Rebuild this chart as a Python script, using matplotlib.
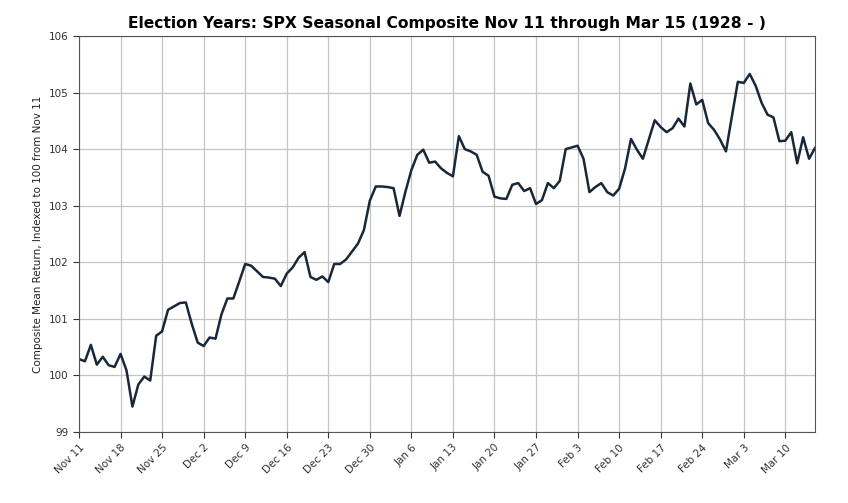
import numpy as np
import matplotlib
matplotlib.use("Agg")
import matplotlib.pyplot as plt

# composite index value per calendar day, Nov 11 (day 0) .. Mar 15 (day 124)
values = [
    100.29, 100.25, 100.54, 100.19, 100.33, 100.18, 100.15, 100.38, 100.09, 99.45,
    99.84, 99.98, 99.91, 100.70, 100.78, 101.16, 101.22, 101.28, 101.29, 100.91,
    100.58, 100.52, 100.67, 100.65, 101.08, 101.36, 101.36, 101.66, 101.97, 101.94,
    101.84, 101.74, 101.73, 101.71, 101.58, 101.80, 101.91, 102.08, 102.18, 101.74,
    101.69, 101.75, 101.65, 101.97, 101.97, 102.05, 102.19, 102.33, 102.57, 103.09,
    103.34, 103.34, 103.33, 103.31, 102.82, 103.25, 103.63, 103.90, 103.99, 103.76,
    103.78, 103.66, 103.58, 103.52, 104.23, 104.00, 103.96, 103.90, 103.60, 103.53,
    103.16, 103.13, 103.12, 103.37, 103.40, 103.26, 103.31, 103.03, 103.10, 103.40,
    103.31, 103.44, 104.00, 104.03, 104.06, 103.83, 103.24, 103.33, 103.40, 103.24,
    103.18, 103.30, 103.66, 104.18, 103.99, 103.83, 104.17, 104.51, 104.39, 104.30,
    104.37, 104.54, 104.40, 105.16, 104.79, 104.87, 104.46, 104.34, 104.17, 103.96,
    104.58, 105.19, 105.17, 105.33, 105.12, 104.82, 104.61, 104.56, 104.14, 104.15,
    104.30, 103.75, 104.21, 103.83, 104.02,
]
days = np.arange(len(values))

tick_days = [0, 7, 14, 21, 28, 35, 42, 49, 56, 63, 70, 77, 84, 91, 98, 105, 112, 119]
tick_labels = ["Nov 11", "Nov 18", "Nov 25", "Dec 2", "Dec 9", "Dec 16", "Dec 23",
               "Dec 30", "Jan 6", "Jan 13", "Jan 20", "Jan 27", "Feb 3", "Feb 10",
               "Feb 17", "Feb 24", "Mar 3", "Mar 10"]
y_ticks = [99, 100, 101, 102, 103, 104, 105, 106]


def main():
    fig = plt.figure(figsize=(8.48, 5.03), dpi=100)
    ax = fig.add_axes([79 / 848, 1 - 432 / 503, (815 - 79) / 848, (432 - 36) / 503])

    ax.plot(days, values, color="#182838", linewidth=1.8)

    ax.set_xlim(0, len(values) - 1)
    ax.set_ylim(99, 106)
    ax.set_yticks(y_ticks)
    ax.set_xticks(tick_days)
    ax.set_xticklabels(tick_labels, rotation=45, ha="right", rotation_mode="anchor")
    ax.tick_params(labelsize=7.5, colors="#333333", length=4)
    ax.grid(True, color="#c4c4c4", linewidth=0.9)
    ax.set_axisbelow(True)
    for s in ax.spines.values():
        s.set_color("#555555")

    ax.set_ylabel("Composite Mean Return, Indexed to 100 from Nov 11", fontsize=7.5,
                  color="#222222")
    ax.set_title("Election Years: SPX Seasonal Composite Nov 11 through Mar 15 (1928 - )",
                 fontsize=11.2, fontweight="bold", pad=6)

    fig.savefig("out.png", dpi=100)


if __name__ == "__main__":
    main()
